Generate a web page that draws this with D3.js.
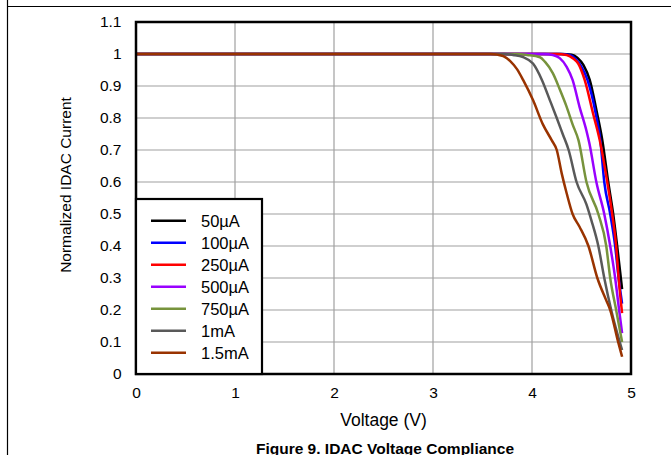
<!DOCTYPE html>
<html>
<head>
<meta charset="utf-8">
<script src="https://cdn.jsdelivr.net/npm/d3@7"></script>
<style>
  html, body { margin: 0; padding: 0; background: #fff; }
  svg { display: block; font-family: "Liberation Sans", Arial, sans-serif; }
</style>
</head>
<body>
<svg id="chart" width="671" height="455"></svg>
<script>
// ---- data ----
const seriesNames = ["50µA", "100µA", "250µA", "500µA", "750µA", "1mA", "1.5mA"];
const seriesColors = ["#000000", "#0000ff", "#ff0000", "#9900ff", "#77933c", "#595959", "#993300"];
const xTicks = [0, 1, 2, 3, 4, 5];
const yTicks = [0, 0.1, 0.2, 0.3, 0.4, 0.5, 0.6, 0.7, 0.8, 0.9, 1, 1.1];
const yTickLabels = ["0", "0.1", "0.2", "0.3", "0.4", "0.5", "0.6", "0.7", "0.8", "0.9", "1", "1.1"];

const s50uA = [[0,1],[4.30,1],[4.40,0.998],[4.46,0.988],[4.52,0.965],[4.583,0.919],[4.657,0.815],[4.71,0.731],[4.77,0.6],[4.82,0.5],[4.86,0.4],[4.89,0.32],[4.91,0.265]];
const s100uA = [[0,1],[4.28,1],[4.38,0.997],[4.44,0.985],[4.50,0.96],[4.56,0.919],[4.643,0.815],[4.69,0.731],[4.73,0.6],[4.79,0.5],[4.84,0.4],[4.875,0.3],[4.91,0.22]];
const s250uA = [[0,1],[4.25,1],[4.35,0.997],[4.42,0.985],[4.465,0.971],[4.532,0.919],[4.616,0.815],[4.684,0.731],[4.76,0.6],[4.81,0.5],[4.85,0.4],[4.875,0.3],[4.91,0.19]];
const s500uA = [[0,1],[4.12,1],[4.21,0.997],[4.28,0.987],[4.35,0.96],[4.41,0.919],[4.48,0.835],[4.55,0.76],[4.58,0.72],[4.65,0.6],[4.73,0.5],[4.79,0.4],[4.84,0.3],[4.88,0.2],[4.91,0.128]];
const s750uA = [[0,1],[3.85,1],[3.95,0.997],[4.08,0.99],[4.13,0.976],[4.21,0.94],[4.28,0.89],[4.35,0.835],[4.41,0.78],[4.47,0.73],[4.55,0.6],[4.67,0.5],[4.75,0.4],[4.79,0.3],[4.85,0.2],[4.91,0.10]];
const s1mA = [[0,1],[3.72,1],[3.81,0.997],[3.91,0.99],[4.01,0.97],[4.10,0.919],[4.18,0.856],[4.25,0.80],[4.31,0.75],[4.37,0.70],[4.45,0.6],[4.55,0.53],[4.60,0.48],[4.67,0.4],[4.73,0.3],[4.80,0.2],[4.91,0.075]];
const s1_5mA = [[0,1],[3.58,1],[3.65,0.998],[3.71,0.993],[3.78,0.978],[3.85,0.952],[3.91,0.919],[4.01,0.856],[4.11,0.78],[4.20,0.73],[4.25,0.70],[4.30,0.627],[4.35,0.565],[4.41,0.5],[4.48,0.46],[4.57,0.4],[4.66,0.3],[4.75,0.23],[4.79,0.2],[4.87,0.1],[4.91,0.054]];
const seriesData = [s50uA, s100uA, s250uA, s500uA, s750uA, s1mA, s1_5mA];

// ---- layout ----
const svg = d3.select("#chart");
const pL = 136, pR = 631, pT = 22, pB = 374;
const x = d3.scaleLinear().domain([0, 5]).range([pL, pR]);
const y = d3.scaleLinear().domain([0, 1.1]).range([pB, pT]);

// figure frame lines
svg.append("line").attr("x1", 7).attr("x2", 671).attr("y1", 6.5).attr("y2", 6.5)
  .attr("stroke", "#000").attr("stroke-width", 1.2);
svg.append("line").attr("x1", 7.5).attr("x2", 7.5).attr("y1", 0).attr("y2", 455)
  .attr("stroke", "#000").attr("stroke-width", 1.2);

// grid
const grid = svg.append("g");
grid.selectAll("line.v").data(xTicks.slice(1, -1)).enter().append("line")
  .attr("x1", d => x(d)).attr("x2", d => x(d)).attr("y1", pT).attr("y2", pB)
  .attr("stroke", "#a0a0a0").attr("stroke-width", 1.2);
grid.selectAll("line.h").data(yTicks.slice(1, -1)).enter().append("line")
  .attr("x1", pL).attr("x2", pR).attr("y1", d => y(d)).attr("y2", d => y(d))
  .attr("stroke", "#a0a0a0").attr("stroke-width", 1.2);

// axes (labels only)
const xAxis = d3.axisBottom(x).tickValues(xTicks).tickSize(0).tickPadding(13).tickFormat(d3.format("d"));
const gx = svg.append("g").attr("transform", `translate(0,${pB})`).call(xAxis);
gx.select(".domain").remove();
gx.selectAll("text").attr("font-size", 15.5).attr("fill", "#000").attr("font-family", "Liberation Sans, Arial, sans-serif");

const yAxis = d3.axisLeft(y).tickValues(yTicks).tickSize(0).tickPadding(14.5)
  .tickFormat((d, i) => yTickLabels[i]);
const gy = svg.append("g").attr("transform", `translate(${pL},0)`).call(yAxis);
gy.select(".domain").remove();
gy.selectAll("text").attr("font-size", 15.5).attr("fill", "#000").attr("font-family", "Liberation Sans, Arial, sans-serif");

// lines
const line = d3.line().x(d => x(d[0])).y(d => y(d[1])).curve(d3.curveMonotoneX);
svg.append("g").selectAll("path").data(seriesData).enter().append("path")
  .attr("d", d => line(d))
  .attr("fill", "none")
  .attr("stroke", (d, i) => seriesColors[i])
  .attr("stroke-width", 2.5)
  .attr("stroke-linejoin", "round");

// plot border
svg.append("rect").attr("x", pL).attr("y", pT).attr("width", pR - pL).attr("height", pB - pT)
  .attr("fill", "none").attr("stroke", "#000").attr("stroke-width", 2.5);

// legend
const lg = svg.append("g");
lg.append("rect").attr("x", pL).attr("y", 199).attr("width", 262 - pL).attr("height", pB - 199)
  .attr("fill", "#fff").attr("stroke", "#000").attr("stroke-width", 2.2);
seriesNames.forEach((name, i) => {
  const ly = 220.7 + i * 22;
  lg.append("line").attr("x1", 151).attr("x2", 186).attr("y1", ly).attr("y2", ly)
    .attr("stroke", seriesColors[i]).attr("stroke-width", 2.5);
  lg.append("text").attr("x", 201).attr("y", ly + 5.8).attr("font-size", 16.5).attr("fill", "#000").text(name);
});

// axis titles
svg.append("text").attr("x", (pL + pR) / 2).attr("y", 426).attr("text-anchor", "middle")
  .attr("font-size", 17.5).attr("fill", "#000").text("Voltage (V)");
svg.append("text").attr("transform", "translate(71,185) rotate(-90)").attr("text-anchor", "middle")
  .attr("font-size", 15.5).attr("fill", "#000").text("Normalized IDAC Current");

// figure caption (partly cut by the bottom edge, as in the reference)
svg.append("text").attr("x", 385).attr("y", 453.5).attr("text-anchor", "middle")
  .attr("font-size", 15.5).attr("font-weight", "bold").attr("fill", "#000").text("Figure 9. IDAC Voltage Compliance");
</script>
</body>
</html>
